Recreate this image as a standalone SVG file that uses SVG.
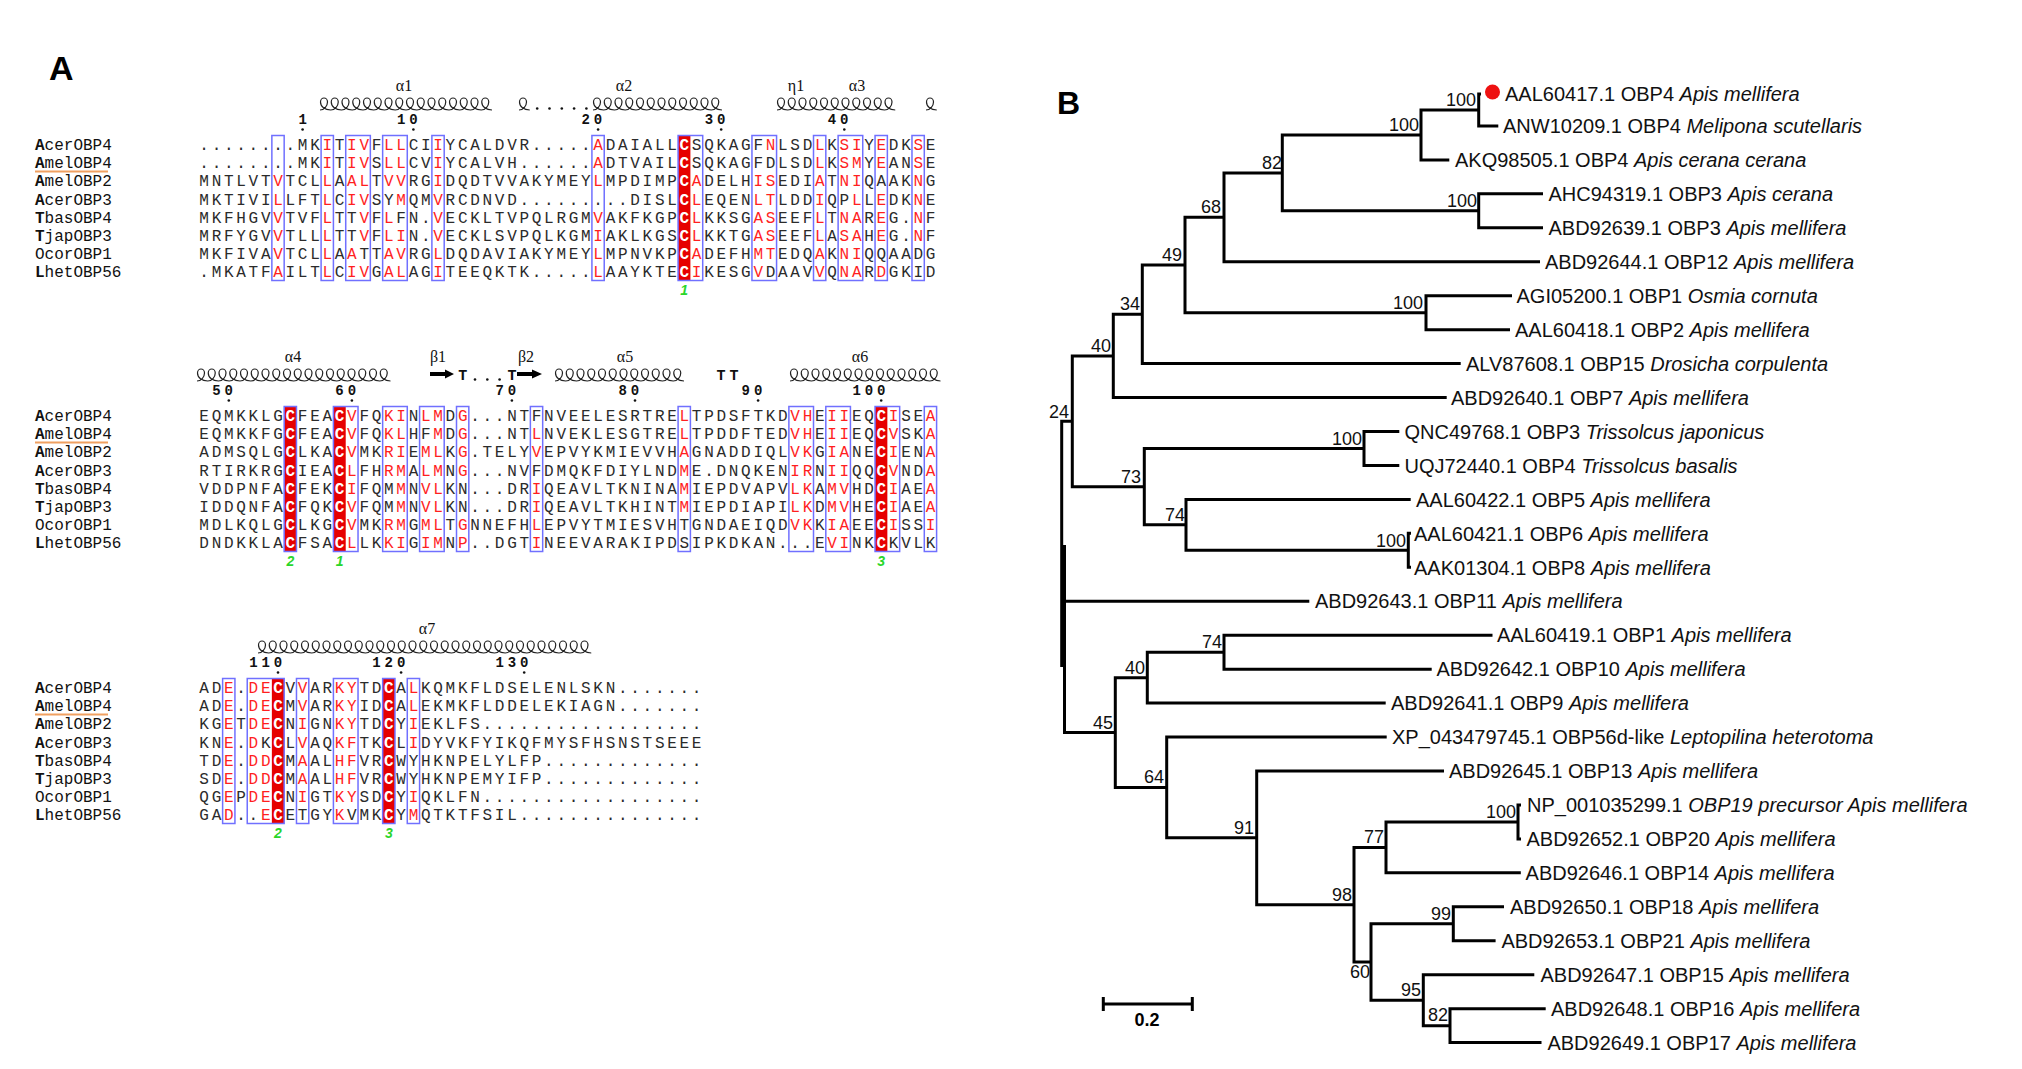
<svg xmlns="http://www.w3.org/2000/svg" width="2022" height="1069" viewBox="0 0 2022 1069">
<style>
.seq{font-family:"Liberation Mono",monospace;font-size:16px;letter-spacing:2.71px;fill:#2b2b2b}
.r{fill:#ff1f1f}
.w{fill:#fff;font-weight:bold}
.nm{font-family:"Liberation Mono",monospace;font-size:16px;fill:#111}
.bx{fill:none;stroke:#7070ff;stroke-width:1.5}
.cf{fill:#e60000}
.hx{fill:none;stroke:#222;stroke-width:1.2}
.num{font-family:"Liberation Mono",monospace;font-size:14px;font-weight:bold;letter-spacing:3.91px;fill:#111}
.ss{font-family:"Liberation Serif",serif;font-size:16px;fill:#111;text-anchor:middle}
.tt{font-family:"Liberation Mono",monospace;font-size:15px;font-weight:bold;fill:#111;text-anchor:middle}
.gn{font-family:"Liberation Sans",sans-serif;font-size:14px;font-weight:bold;font-style:italic;fill:#2ad62a;text-anchor:middle}
.br{fill:none;stroke:#000;stroke-width:3}
.lf{font-family:"Liberation Sans",Arial,sans-serif;font-size:20px;fill:#111}
.it{font-style:italic}
.bs{font-family:"Liberation Sans",Arial,sans-serif;font-size:18px;fill:#111;text-anchor:end}
.pl{font-family:"Liberation Sans",Arial,sans-serif;font-weight:bold;fill:#000}
.dt{fill:#111}
.ul{stroke:#f0a060;stroke-width:2}
</style>
<defs>
<g id="names">
<text class="nm" x="35" y="150"><tspan font-weight="bold">A</tspan>cerOBP4</text>
<text class="nm" x="35" y="168.2"><tspan font-weight="bold">A</tspan>melOBP4</text>
<text class="nm" x="35" y="186.4"><tspan font-weight="bold">A</tspan>melOBP2</text>
<text class="nm" x="35" y="204.6"><tspan font-weight="bold">A</tspan>cerOBP3</text>
<text class="nm" x="35" y="222.8"><tspan font-weight="bold">T</tspan>basOBP4</text>
<text class="nm" x="35" y="241"><tspan font-weight="bold">T</tspan>japOBP3</text>
<text class="nm" x="35" y="259.2">OcorOBP1</text>
<text class="nm" x="35" y="277.4"><tspan font-weight="bold">L</tspan>hetOBP56</text>
<line class="ul" x1="35" y1="171.5" x2="108" y2="171.5"/>
</g>
</defs>

<text class="pl" x="49" y="80" font-size="34">A</text>

<g id="block1">
<use href="#names"/>
<text class="ss" x="404" y="91">α1</text>
<text class="ss" x="624" y="91">α2</text>
<text class="ss" x="796" y="91">η1</text>
<text class="ss" x="857" y="91">α3</text>
<path class="hx" d="M320,110c4,0 7.5,-3.8 7.5,-8c0,-2.4 -1.7,-4 -3.5,-4c-1.8,0 -3.5,1.8 -3.5,4c0,4.6 4.5,8 10.25,8c4,0 7.5,-3.8 7.5,-8c0,-2.4 -1.7,-4 -3.5,-4c-1.8,0 -3.5,1.8 -3.5,4c0,4.6 4.5,8 10.25,8c4,0 7.5,-3.8 7.5,-8c0,-2.4 -1.7,-4 -3.5,-4c-1.8,0 -3.5,1.8 -3.5,4c0,4.6 4.5,8 10.25,8c4,0 7.5,-3.8 7.5,-8c0,-2.4 -1.7,-4 -3.5,-4c-1.8,0 -3.5,1.8 -3.5,4c0,4.6 4.5,8 10.25,8c4,0 7.5,-3.8 7.5,-8c0,-2.4 -1.7,-4 -3.5,-4c-1.8,0 -3.5,1.8 -3.5,4c0,4.6 4.5,8 10.25,8c4,0 7.5,-3.8 7.5,-8c0,-2.4 -1.7,-4 -3.5,-4c-1.8,0 -3.5,1.8 -3.5,4c0,4.6 4.5,8 10.25,8c4,0 7.5,-3.8 7.5,-8c0,-2.4 -1.7,-4 -3.5,-4c-1.8,0 -3.5,1.8 -3.5,4c0,4.6 4.5,8 10.25,8c4,0 7.5,-3.8 7.5,-8c0,-2.4 -1.7,-4 -3.5,-4c-1.8,0 -3.5,1.8 -3.5,4c0,4.6 4.5,8 10.25,8c4,0 7.5,-3.8 7.5,-8c0,-2.4 -1.7,-4 -3.5,-4c-1.8,0 -3.5,1.8 -3.5,4c0,4.6 4.5,8 10.25,8c4,0 7.5,-3.8 7.5,-8c0,-2.4 -1.7,-4 -3.5,-4c-1.8,0 -3.5,1.8 -3.5,4c0,4.6 4.5,8 10.25,8c4,0 7.5,-3.8 7.5,-8c0,-2.4 -1.7,-4 -3.5,-4c-1.8,0 -3.5,1.8 -3.5,4c0,4.6 4.5,8 10.25,8c4,0 7.5,-3.8 7.5,-8c0,-2.4 -1.7,-4 -3.5,-4c-1.8,0 -3.5,1.8 -3.5,4c0,4.6 4.5,8 10.25,8c4,0 7.5,-3.8 7.5,-8c0,-2.4 -1.7,-4 -3.5,-4c-1.8,0 -3.5,1.8 -3.5,4c0,4.6 4.5,8 10.25,8c4,0 7.5,-3.8 7.5,-8c0,-2.4 -1.7,-4 -3.5,-4c-1.8,0 -3.5,1.8 -3.5,4c0,4.6 4.5,8 10.25,8c4,0 7.5,-3.8 7.5,-8c0,-2.4 -1.7,-4 -3.5,-4c-1.8,0 -3.5,1.8 -3.5,4c0,4.6 4.5,8 10.25,8c4,0 7.5,-3.8 7.5,-8c0,-2.4 -1.7,-4 -3.5,-4c-1.8,0 -3.5,1.8 -3.5,4c0,4.6 4.5,8 10.25,8"/>
<path class="hx" d="M519,110c4,0 7.5,-3.8 7.5,-8c0,-2.4 -1.7,-4 -3.5,-4c-1.8,0 -3.5,1.8 -3.5,4c0,4.6 4.5,8 10.25,8"/>
<path class="hx" d="M926,110c4,0 7.5,-3.8 7.5,-8c0,-2.4 -1.7,-4 -3.5,-4c-1.8,0 -3.5,1.8 -3.5,4c0,4.6 4.5,8 10.25,8"/>
<g class="dt"><circle cx="537.2" cy="108.5" r="1.3"/><circle cx="549.5" cy="108.5" r="1.3"/><circle cx="561.8" cy="108.5" r="1.3"/><circle cx="574.1" cy="108.5" r="1.3"/><circle cx="586.4" cy="108.5" r="1.3"/></g>
<path class="hx" d="M593,110c4,0 7.5,-3.8 7.5,-8c0,-2.4 -1.7,-4 -3.5,-4c-1.8,0 -3.5,1.8 -3.5,4c0,4.6 4.5,8 10.25,8c4,0 7.5,-3.8 7.5,-8c0,-2.4 -1.7,-4 -3.5,-4c-1.8,0 -3.5,1.8 -3.5,4c0,4.6 4.5,8 10.25,8c4,0 7.5,-3.8 7.5,-8c0,-2.4 -1.7,-4 -3.5,-4c-1.8,0 -3.5,1.8 -3.5,4c0,4.6 4.5,8 10.25,8c4,0 7.5,-3.8 7.5,-8c0,-2.4 -1.7,-4 -3.5,-4c-1.8,0 -3.5,1.8 -3.5,4c0,4.6 4.5,8 10.25,8c4,0 7.5,-3.8 7.5,-8c0,-2.4 -1.7,-4 -3.5,-4c-1.8,0 -3.5,1.8 -3.5,4c0,4.6 4.5,8 10.25,8c4,0 7.5,-3.8 7.5,-8c0,-2.4 -1.7,-4 -3.5,-4c-1.8,0 -3.5,1.8 -3.5,4c0,4.6 4.5,8 10.25,8c4,0 7.5,-3.8 7.5,-8c0,-2.4 -1.7,-4 -3.5,-4c-1.8,0 -3.5,1.8 -3.5,4c0,4.6 4.5,8 10.25,8c4,0 7.5,-3.8 7.5,-8c0,-2.4 -1.7,-4 -3.5,-4c-1.8,0 -3.5,1.8 -3.5,4c0,4.6 4.5,8 10.25,8c4,0 7.5,-3.8 7.5,-8c0,-2.4 -1.7,-4 -3.5,-4c-1.8,0 -3.5,1.8 -3.5,4c0,4.6 4.5,8 10.25,8c4,0 7.5,-3.8 7.5,-8c0,-2.4 -1.7,-4 -3.5,-4c-1.8,0 -3.5,1.8 -3.5,4c0,4.6 4.5,8 10.25,8c4,0 7.5,-3.8 7.5,-8c0,-2.4 -1.7,-4 -3.5,-4c-1.8,0 -3.5,1.8 -3.5,4c0,4.6 4.5,8 10.25,8c4,0 7.5,-3.8 7.5,-8c0,-2.4 -1.7,-4 -3.5,-4c-1.8,0 -3.5,1.8 -3.5,4c0,4.6 4.5,8 10.25,8"/>
<path class="hx" d="M777,110c4,0 7.5,-3.8 7.5,-8c0,-2.4 -1.7,-4 -3.5,-4c-1.8,0 -3.5,1.8 -3.5,4c0,4.6 4.5,8 10.25,8c4,0 7.5,-3.8 7.5,-8c0,-2.4 -1.7,-4 -3.5,-4c-1.8,0 -3.5,1.8 -3.5,4c0,4.6 4.5,8 10.25,8c4,0 7.5,-3.8 7.5,-8c0,-2.4 -1.7,-4 -3.5,-4c-1.8,0 -3.5,1.8 -3.5,4c0,4.6 4.5,8 10.25,8c4,0 7.5,-3.8 7.5,-8c0,-2.4 -1.7,-4 -3.5,-4c-1.8,0 -3.5,1.8 -3.5,4c0,4.6 4.5,8 10.25,8c4,0 7.5,-3.8 7.5,-8c0,-2.4 -1.7,-4 -3.5,-4c-1.8,0 -3.5,1.8 -3.5,4c0,4.6 4.5,8 10.25,8c4,0 7.5,-3.8 7.5,-8c0,-2.4 -1.7,-4 -3.5,-4c-1.8,0 -3.5,1.8 -3.5,4c0,4.6 4.5,8 10.25,8c4,0 7.5,-3.8 7.5,-8c0,-2.4 -1.7,-4 -3.5,-4c-1.8,0 -3.5,1.8 -3.5,4c0,4.6 4.5,8 10.25,8c4,0 7.5,-3.8 7.5,-8c0,-2.4 -1.7,-4 -3.5,-4c-1.8,0 -3.5,1.8 -3.5,4c0,4.6 4.5,8 10.25,8c4,0 7.5,-3.8 7.5,-8c0,-2.4 -1.7,-4 -3.5,-4c-1.8,0 -3.5,1.8 -3.5,4c0,4.6 4.5,8 10.25,8c4,0 7.5,-3.8 7.5,-8c0,-2.4 -1.7,-4 -3.5,-4c-1.8,0 -3.5,1.8 -3.5,4c0,4.6 4.5,8 10.25,8c4,0 7.5,-3.8 7.5,-8c0,-2.4 -1.7,-4 -3.5,-4c-1.8,0 -3.5,1.8 -3.5,4c0,4.6 4.5,8 10.25,8"/>
<text class="num" x="298.43" y="124">1</text>
<text class="num" x="396.91" y="124">10</text>
<text class="num" x="581.56" y="124">20</text>
<text class="num" x="704.66" y="124">30</text>
<text class="num" x="827.76" y="124">40</text>
<g class="dt"><circle cx="302.6" cy="129.5" r="1.3"/><circle cx="413.4" cy="129.5" r="1.3"/><circle cx="598.1" cy="129.5" r="1.3"/><circle cx="721.2" cy="129.5" r="1.3"/><circle cx="844.3" cy="129.5" r="1.3"/></g>
<rect class="cf" x="678.09" y="135.5" width="12.31" height="145"/>
<g class="bx">
<rect x="271.86" y="135.5" width="12.31" height="145"/>
<rect x="321.1" y="135.5" width="12.31" height="145"/>
<rect x="345.72" y="135.5" width="24.62" height="145"/>
<rect x="382.65" y="135.5" width="24.62" height="145"/>
<rect x="431.89" y="135.5" width="12.31" height="145"/>
<rect x="591.92" y="135.5" width="12.31" height="145"/>
<rect x="678.09" y="135.5" width="24.62" height="145"/>
<rect x="751.95" y="135.5" width="24.62" height="145"/>
<rect x="813.5" y="135.5" width="12.31" height="145"/>
<rect x="838.12" y="135.5" width="24.62" height="145"/>
<rect x="875.05" y="135.5" width="12.31" height="145"/>
<rect x="911.98" y="135.5" width="12.31" height="145"/>
</g>
<text class="seq" x="199.36" y="150">........MK<tspan class="r">I</tspan>T<tspan class="r">IV</tspan>F<tspan class="r">LL</tspan>CI<tspan class="r">I</tspan>YCALDVR.....<tspan class="r">A</tspan>DAIALL<tspan class="w">C</tspan>SQKAGF<tspan class="r">N</tspan>LSD<tspan class="r">L</tspan>K<tspan class="r">SI</tspan>Y<tspan class="r">E</tspan>DK<tspan class="r">S</tspan>E</text>
<text class="seq" x="199.36" y="168.2">........MK<tspan class="r">I</tspan>T<tspan class="r">IV</tspan>S<tspan class="r">LL</tspan>CV<tspan class="r">I</tspan>YCALVH......<tspan class="r">A</tspan>DTVAIL<tspan class="w">C</tspan>SQKAGFDLSD<tspan class="r">L</tspan>K<tspan class="r">SM</tspan>Y<tspan class="r">E</tspan>AN<tspan class="r">S</tspan>E</text>
<text class="seq" x="199.36" y="186.4">MNTLVT<tspan class="r">V</tspan>TCL<tspan class="r">L</tspan>A<tspan class="r">AL</tspan>T<tspan class="r">VV</tspan>RG<tspan class="r">I</tspan>DQDTVVAKYMEY<tspan class="r">L</tspan>MPDIMP<tspan class="w">C</tspan><tspan class="r">A</tspan>DELH<tspan class="r">IS</tspan>EDI<tspan class="r">A</tspan>T<tspan class="r">NI</tspan>QAAK<tspan class="r">N</tspan>G</text>
<text class="seq" x="199.36" y="204.6">MKTIVI<tspan class="r">L</tspan>LFT<tspan class="r">L</tspan>C<tspan class="r">IV</tspan>SY<tspan class="r">M</tspan>QM<tspan class="r">V</tspan>RCDNVD.........DISL<tspan class="w">C</tspan><tspan class="r">L</tspan>EQEN<tspan class="r">LT</tspan>LDD<tspan class="r">I</tspan>QP<tspan class="r">L</tspan>L<tspan class="r">E</tspan>DK<tspan class="r">N</tspan>E</text>
<text class="seq" x="199.36" y="222.8">MKFHGV<tspan class="r">V</tspan>TVF<tspan class="r">L</tspan>TT<tspan class="r">V</tspan>F<tspan class="r">L</tspan>FN.<tspan class="r">V</tspan>ECKLTVPQLRGM<tspan class="r">V</tspan>AKFKGP<tspan class="w">C</tspan><tspan class="r">L</tspan>KKSG<tspan class="r">AS</tspan>EEF<tspan class="r">L</tspan>T<tspan class="r">NA</tspan>R<tspan class="r">E</tspan>G.<tspan class="r">N</tspan>F</text>
<text class="seq" x="199.36" y="241">MRFYGV<tspan class="r">V</tspan>TLL<tspan class="r">L</tspan>TT<tspan class="r">V</tspan>F<tspan class="r">LI</tspan>N.<tspan class="r">V</tspan>ECKLSVPQLKGM<tspan class="r">I</tspan>AKLKGS<tspan class="w">C</tspan><tspan class="r">L</tspan>KKTG<tspan class="r">AS</tspan>EEF<tspan class="r">L</tspan>A<tspan class="r">SA</tspan>H<tspan class="r">E</tspan>G.<tspan class="r">N</tspan>F</text>
<text class="seq" x="199.36" y="259.2">MKFIVA<tspan class="r">V</tspan>TCL<tspan class="r">L</tspan>A<tspan class="r">A</tspan>TT<tspan class="r">AV</tspan>RG<tspan class="r">L</tspan>DQDAVIAKYMEY<tspan class="r">L</tspan>MPNVKP<tspan class="w">C</tspan><tspan class="r">A</tspan>DEFH<tspan class="r">MT</tspan>EDQ<tspan class="r">A</tspan>K<tspan class="r">NI</tspan>QQAADG</text>
<text class="seq" x="199.36" y="277.4">.MKATF<tspan class="r">A</tspan>ILT<tspan class="r">L</tspan>C<tspan class="r">IV</tspan>G<tspan class="r">AL</tspan>AG<tspan class="r">I</tspan>TEEQKTK.....<tspan class="r">L</tspan>AAYKTE<tspan class="w">C</tspan><tspan class="r">I</tspan>KESG<tspan class="r">V</tspan>DAAV<tspan class="r">V</tspan>Q<tspan class="r">NA</tspan>R<tspan class="r">D</tspan>GKID</text>
<text class="gn" x="684.2" y="295">1</text>
</g>

<g id="block2" transform="translate(0,271)">
<use href="#names"/>
<text class="ss" x="293" y="91">α4</text>
<text class="ss" x="438" y="91">β1</text>
<text class="ss" x="526" y="91">β2</text>
<text class="ss" x="625" y="91">α5</text>
<text class="ss" x="860" y="91">α6</text>
<path class="hx" d="M197,110c4,0 7.5,-3.8 7.5,-8c0,-2.4 -1.7,-4 -3.5,-4c-1.8,0 -3.5,1.8 -3.5,4c0,4.6 4.5,8 10.25,8c4,0 7.5,-3.8 7.5,-8c0,-2.4 -1.7,-4 -3.5,-4c-1.8,0 -3.5,1.8 -3.5,4c0,4.6 4.5,8 10.25,8c4,0 7.5,-3.8 7.5,-8c0,-2.4 -1.7,-4 -3.5,-4c-1.8,0 -3.5,1.8 -3.5,4c0,4.6 4.5,8 10.25,8c4,0 7.5,-3.8 7.5,-8c0,-2.4 -1.7,-4 -3.5,-4c-1.8,0 -3.5,1.8 -3.5,4c0,4.6 4.5,8 10.25,8c4,0 7.5,-3.8 7.5,-8c0,-2.4 -1.7,-4 -3.5,-4c-1.8,0 -3.5,1.8 -3.5,4c0,4.6 4.5,8 10.25,8c4,0 7.5,-3.8 7.5,-8c0,-2.4 -1.7,-4 -3.5,-4c-1.8,0 -3.5,1.8 -3.5,4c0,4.6 4.5,8 10.25,8c4,0 7.5,-3.8 7.5,-8c0,-2.4 -1.7,-4 -3.5,-4c-1.8,0 -3.5,1.8 -3.5,4c0,4.6 4.5,8 10.25,8c4,0 7.5,-3.8 7.5,-8c0,-2.4 -1.7,-4 -3.5,-4c-1.8,0 -3.5,1.8 -3.5,4c0,4.6 4.5,8 10.25,8c4,0 7.5,-3.8 7.5,-8c0,-2.4 -1.7,-4 -3.5,-4c-1.8,0 -3.5,1.8 -3.5,4c0,4.6 4.5,8 10.25,8c4,0 7.5,-3.8 7.5,-8c0,-2.4 -1.7,-4 -3.5,-4c-1.8,0 -3.5,1.8 -3.5,4c0,4.6 4.5,8 10.25,8c4,0 7.5,-3.8 7.5,-8c0,-2.4 -1.7,-4 -3.5,-4c-1.8,0 -3.5,1.8 -3.5,4c0,4.6 4.5,8 10.25,8c4,0 7.5,-3.8 7.5,-8c0,-2.4 -1.7,-4 -3.5,-4c-1.8,0 -3.5,1.8 -3.5,4c0,4.6 4.5,8 10.25,8c4,0 7.5,-3.8 7.5,-8c0,-2.4 -1.7,-4 -3.5,-4c-1.8,0 -3.5,1.8 -3.5,4c0,4.6 4.5,8 10.25,8c4,0 7.5,-3.8 7.5,-8c0,-2.4 -1.7,-4 -3.5,-4c-1.8,0 -3.5,1.8 -3.5,4c0,4.6 4.5,8 10.25,8c4,0 7.5,-3.8 7.5,-8c0,-2.4 -1.7,-4 -3.5,-4c-1.8,0 -3.5,1.8 -3.5,4c0,4.6 4.5,8 10.25,8c4,0 7.5,-3.8 7.5,-8c0,-2.4 -1.7,-4 -3.5,-4c-1.8,0 -3.5,1.8 -3.5,4c0,4.6 4.5,8 10.25,8c4,0 7.5,-3.8 7.5,-8c0,-2.4 -1.7,-4 -3.5,-4c-1.8,0 -3.5,1.8 -3.5,4c0,4.6 4.5,8 10.25,8c4,0 7.5,-3.8 7.5,-8c0,-2.4 -1.7,-4 -3.5,-4c-1.8,0 -3.5,1.8 -3.5,4c0,4.6 4.5,8 10.25,8"/>
<path d="M430,101H445V98.5L454,103L445,107.5V105H430Z" fill="#000"/>
<text class="tt" x="462.7" y="109">T</text>
<g class="dt"><circle cx="475" cy="108.5" r="1.3"/><circle cx="487.3" cy="108.5" r="1.3"/><circle cx="499.6" cy="108.5" r="1.3"/></g>
<text class="tt" x="511.9" y="109">T</text>
<path d="M517,101H532V98.5L542,103L532,107.5V105H517Z" fill="#000"/>
<path class="hx" d="M555,110c4,0 7.5,-3.8 7.5,-8c0,-2.4 -1.7,-4 -3.5,-4c-1.8,0 -3.5,1.8 -3.5,4c0,4.6 4.5,8 10.25,8c4,0 7.5,-3.8 7.5,-8c0,-2.4 -1.7,-4 -3.5,-4c-1.8,0 -3.5,1.8 -3.5,4c0,4.6 4.5,8 10.25,8c4,0 7.5,-3.8 7.5,-8c0,-2.4 -1.7,-4 -3.5,-4c-1.8,0 -3.5,1.8 -3.5,4c0,4.6 4.5,8 10.25,8c4,0 7.5,-3.8 7.5,-8c0,-2.4 -1.7,-4 -3.5,-4c-1.8,0 -3.5,1.8 -3.5,4c0,4.6 4.5,8 10.25,8c4,0 7.5,-3.8 7.5,-8c0,-2.4 -1.7,-4 -3.5,-4c-1.8,0 -3.5,1.8 -3.5,4c0,4.6 4.5,8 10.25,8c4,0 7.5,-3.8 7.5,-8c0,-2.4 -1.7,-4 -3.5,-4c-1.8,0 -3.5,1.8 -3.5,4c0,4.6 4.5,8 10.25,8c4,0 7.5,-3.8 7.5,-8c0,-2.4 -1.7,-4 -3.5,-4c-1.8,0 -3.5,1.8 -3.5,4c0,4.6 4.5,8 10.25,8c4,0 7.5,-3.8 7.5,-8c0,-2.4 -1.7,-4 -3.5,-4c-1.8,0 -3.5,1.8 -3.5,4c0,4.6 4.5,8 10.25,8c4,0 7.5,-3.8 7.5,-8c0,-2.4 -1.7,-4 -3.5,-4c-1.8,0 -3.5,1.8 -3.5,4c0,4.6 4.5,8 10.25,8c4,0 7.5,-3.8 7.5,-8c0,-2.4 -1.7,-4 -3.5,-4c-1.8,0 -3.5,1.8 -3.5,4c0,4.6 4.5,8 10.25,8c4,0 7.5,-3.8 7.5,-8c0,-2.4 -1.7,-4 -3.5,-4c-1.8,0 -3.5,1.8 -3.5,4c0,4.6 4.5,8 10.25,8c4,0 7.5,-3.8 7.5,-8c0,-2.4 -1.7,-4 -3.5,-4c-1.8,0 -3.5,1.8 -3.5,4c0,4.6 4.5,8 10.25,8"/>
<text class="tt" x="721" y="109">T</text>
<text class="tt" x="734" y="109">T</text>
<path class="hx" d="M790,110c4,0 7.5,-3.8 7.5,-8c0,-2.4 -1.7,-4 -3.5,-4c-1.8,0 -3.5,1.8 -3.5,4c0,4.6 4.5,8 10.25,8c4,0 7.5,-3.8 7.5,-8c0,-2.4 -1.7,-4 -3.5,-4c-1.8,0 -3.5,1.8 -3.5,4c0,4.6 4.5,8 10.25,8c4,0 7.5,-3.8 7.5,-8c0,-2.4 -1.7,-4 -3.5,-4c-1.8,0 -3.5,1.8 -3.5,4c0,4.6 4.5,8 10.25,8c4,0 7.5,-3.8 7.5,-8c0,-2.4 -1.7,-4 -3.5,-4c-1.8,0 -3.5,1.8 -3.5,4c0,4.6 4.5,8 10.25,8c4,0 7.5,-3.8 7.5,-8c0,-2.4 -1.7,-4 -3.5,-4c-1.8,0 -3.5,1.8 -3.5,4c0,4.6 4.5,8 10.25,8c4,0 7.5,-3.8 7.5,-8c0,-2.4 -1.7,-4 -3.5,-4c-1.8,0 -3.5,1.8 -3.5,4c0,4.6 4.5,8 10.25,8c4,0 7.5,-3.8 7.5,-8c0,-2.4 -1.7,-4 -3.5,-4c-1.8,0 -3.5,1.8 -3.5,4c0,4.6 4.5,8 10.25,8c4,0 7.5,-3.8 7.5,-8c0,-2.4 -1.7,-4 -3.5,-4c-1.8,0 -3.5,1.8 -3.5,4c0,4.6 4.5,8 10.25,8c4,0 7.5,-3.8 7.5,-8c0,-2.4 -1.7,-4 -3.5,-4c-1.8,0 -3.5,1.8 -3.5,4c0,4.6 4.5,8 10.25,8c4,0 7.5,-3.8 7.5,-8c0,-2.4 -1.7,-4 -3.5,-4c-1.8,0 -3.5,1.8 -3.5,4c0,4.6 4.5,8 10.25,8c4,0 7.5,-3.8 7.5,-8c0,-2.4 -1.7,-4 -3.5,-4c-1.8,0 -3.5,1.8 -3.5,4c0,4.6 4.5,8 10.25,8c4,0 7.5,-3.8 7.5,-8c0,-2.4 -1.7,-4 -3.5,-4c-1.8,0 -3.5,1.8 -3.5,4c0,4.6 4.5,8 10.25,8c4,0 7.5,-3.8 7.5,-8c0,-2.4 -1.7,-4 -3.5,-4c-1.8,0 -3.5,1.8 -3.5,4c0,4.6 4.5,8 10.25,8c4,0 7.5,-3.8 7.5,-8c0,-2.4 -1.7,-4 -3.5,-4c-1.8,0 -3.5,1.8 -3.5,4c0,4.6 4.5,8 10.25,8"/>
<text class="num" x="212.26" y="124">50</text>
<text class="num" x="335.36" y="124">60</text>
<text class="num" x="495.39" y="124">70</text>
<text class="num" x="618.49" y="124">80</text>
<text class="num" x="741.59" y="124">90</text>
<text class="num" x="852.38" y="124">100</text>
<g class="dt"><circle cx="228.8" cy="129.5" r="1.3"/><circle cx="351.9" cy="129.5" r="1.3"/><circle cx="511.9" cy="129.5" r="1.3"/><circle cx="635" cy="129.5" r="1.3"/><circle cx="758.1" cy="129.5" r="1.3"/><circle cx="881.2" cy="129.5" r="1.3"/></g>
<rect class="cf" x="284.17" y="135.5" width="12.31" height="145"/>
<rect class="cf" x="333.41" y="135.5" width="12.31" height="145"/>
<rect class="cf" x="875.05" y="135.5" width="12.31" height="145"/>
<g class="bx">
<rect x="284.17" y="135.5" width="12.31" height="145"/>
<rect x="333.41" y="135.5" width="24.62" height="145"/>
<rect x="382.65" y="135.5" width="24.62" height="145"/>
<rect x="419.58" y="135.5" width="24.62" height="145"/>
<rect x="456.51" y="135.5" width="12.31" height="145"/>
<rect x="530.37" y="135.5" width="12.31" height="145"/>
<rect x="678.09" y="135.5" width="12.31" height="145"/>
<rect x="788.88" y="135.5" width="24.62" height="145"/>
<rect x="825.81" y="135.5" width="24.62" height="145"/>
<rect x="875.05" y="135.5" width="24.62" height="145"/>
<rect x="924.29" y="135.5" width="12.31" height="145"/>
</g>
<text class="seq" x="199.36" y="150">EQMKKLG<tspan class="w">C</tspan>FEA<tspan class="w">C</tspan><tspan class="r">V</tspan>FQ<tspan class="r">KI</tspan>N<tspan class="r">LM</tspan>D<tspan class="r">G</tspan>...NTFNVEELESRTRE<tspan class="r">L</tspan>TPDSFTKD<tspan class="r">VH</tspan>E<tspan class="r">II</tspan>EQ<tspan class="w">C</tspan><tspan class="r">I</tspan>SE<tspan class="r">A</tspan></text>
<text class="seq" x="199.36" y="168.2">EQMKKFG<tspan class="w">C</tspan>FEA<tspan class="w">C</tspan><tspan class="r">V</tspan>FQ<tspan class="r">KL</tspan>HF<tspan class="r">M</tspan>D<tspan class="r">G</tspan>...NT<tspan class="r">L</tspan>NVEKLESGTRE<tspan class="r">L</tspan>TPDDFTED<tspan class="r">VH</tspan>E<tspan class="r">II</tspan>EQ<tspan class="w">C</tspan><tspan class="r">V</tspan>SK<tspan class="r">A</tspan></text>
<text class="seq" x="199.36" y="186.4">ADMSQLG<tspan class="w">C</tspan>LKA<tspan class="w">C</tspan><tspan class="r">V</tspan>MK<tspan class="r">RI</tspan>E<tspan class="r">ML</tspan>K<tspan class="r">G</tspan>.TELY<tspan class="r">V</tspan>EPVYKMIEVVH<tspan class="r">A</tspan>GNADDIQL<tspan class="r">VK</tspan>G<tspan class="r">IA</tspan>NE<tspan class="w">C</tspan><tspan class="r">I</tspan>EN<tspan class="r">A</tspan></text>
<text class="seq" x="199.36" y="204.6">RTIRKRG<tspan class="w">C</tspan>IEA<tspan class="w">C</tspan><tspan class="r">L</tspan>FH<tspan class="r">RM</tspan>A<tspan class="r">LM</tspan>N<tspan class="r">G</tspan>...NVFDMQKFDIYLND<tspan class="r">M</tspan>E.DNQKEN<tspan class="r">IR</tspan>N<tspan class="r">II</tspan>QQ<tspan class="w">C</tspan><tspan class="r">V</tspan>ND<tspan class="r">A</tspan></text>
<text class="seq" x="199.36" y="222.8">VDDPNFA<tspan class="w">C</tspan>FEK<tspan class="w">C</tspan><tspan class="r">I</tspan>FQM<tspan class="r">M</tspan>N<tspan class="r">VL</tspan>KN...DR<tspan class="r">I</tspan>QEAVLTKNINA<tspan class="r">M</tspan>IEPDVAPV<tspan class="r">LK</tspan>A<tspan class="r">MV</tspan>HD<tspan class="w">C</tspan><tspan class="r">I</tspan>AE<tspan class="r">A</tspan></text>
<text class="seq" x="199.36" y="241">IDDQNFA<tspan class="w">C</tspan>FQK<tspan class="w">C</tspan><tspan class="r">V</tspan>FQM<tspan class="r">M</tspan>N<tspan class="r">VL</tspan>KN...DR<tspan class="r">I</tspan>QEAVLTKHINT<tspan class="r">M</tspan>IEPDIAPI<tspan class="r">LK</tspan>D<tspan class="r">MV</tspan>HE<tspan class="w">C</tspan><tspan class="r">I</tspan>AE<tspan class="r">A</tspan></text>
<text class="seq" x="199.36" y="259.2">MDLKQLG<tspan class="w">C</tspan>LKG<tspan class="w">C</tspan><tspan class="r">V</tspan>MK<tspan class="r">RM</tspan>G<tspan class="r">ML</tspan>T<tspan class="r">G</tspan>NNEFH<tspan class="r">L</tspan>EPVYTMIESVHTGNDAEIQD<tspan class="r">VK</tspan>K<tspan class="r">IA</tspan>EE<tspan class="w">C</tspan><tspan class="r">I</tspan>SS<tspan class="r">I</tspan></text>
<text class="seq" x="199.36" y="277.4">DNDKKLA<tspan class="w">C</tspan>FSA<tspan class="w">C</tspan><tspan class="r">L</tspan>LK<tspan class="r">KI</tspan>G<tspan class="r">IM</tspan>N<tspan class="r">P</tspan>..DGT<tspan class="r">I</tspan>NEEVARAKIPDSIPKDKAN...E<tspan class="r">VI</tspan>NK<tspan class="w">C</tspan>KVLK</text>
<text class="gn" x="290.3" y="295">2</text>
<text class="gn" x="339.6" y="295">1</text>
<text class="gn" x="881.2" y="295">3</text>
</g>

<g id="block3" transform="translate(0,543)">
<use href="#names"/>
<text class="ss" x="427" y="91">α7</text>
<path class="hx" d="M258,110c4,0 7.5,-3.8 7.5,-8c0,-2.4 -1.7,-4 -3.5,-4c-1.8,0 -3.5,1.8 -3.5,4c0,4.6 4.5,8 10.25,8c4,0 7.5,-3.8 7.5,-8c0,-2.4 -1.7,-4 -3.5,-4c-1.8,0 -3.5,1.8 -3.5,4c0,4.6 4.5,8 10.25,8c4,0 7.5,-3.8 7.5,-8c0,-2.4 -1.7,-4 -3.5,-4c-1.8,0 -3.5,1.8 -3.5,4c0,4.6 4.5,8 10.25,8c4,0 7.5,-3.8 7.5,-8c0,-2.4 -1.7,-4 -3.5,-4c-1.8,0 -3.5,1.8 -3.5,4c0,4.6 4.5,8 10.25,8c4,0 7.5,-3.8 7.5,-8c0,-2.4 -1.7,-4 -3.5,-4c-1.8,0 -3.5,1.8 -3.5,4c0,4.6 4.5,8 10.25,8c4,0 7.5,-3.8 7.5,-8c0,-2.4 -1.7,-4 -3.5,-4c-1.8,0 -3.5,1.8 -3.5,4c0,4.6 4.5,8 10.25,8c4,0 7.5,-3.8 7.5,-8c0,-2.4 -1.7,-4 -3.5,-4c-1.8,0 -3.5,1.8 -3.5,4c0,4.6 4.5,8 10.25,8c4,0 7.5,-3.8 7.5,-8c0,-2.4 -1.7,-4 -3.5,-4c-1.8,0 -3.5,1.8 -3.5,4c0,4.6 4.5,8 10.25,8c4,0 7.5,-3.8 7.5,-8c0,-2.4 -1.7,-4 -3.5,-4c-1.8,0 -3.5,1.8 -3.5,4c0,4.6 4.5,8 10.25,8c4,0 7.5,-3.8 7.5,-8c0,-2.4 -1.7,-4 -3.5,-4c-1.8,0 -3.5,1.8 -3.5,4c0,4.6 4.5,8 10.25,8c4,0 7.5,-3.8 7.5,-8c0,-2.4 -1.7,-4 -3.5,-4c-1.8,0 -3.5,1.8 -3.5,4c0,4.6 4.5,8 10.25,8c4,0 7.5,-3.8 7.5,-8c0,-2.4 -1.7,-4 -3.5,-4c-1.8,0 -3.5,1.8 -3.5,4c0,4.6 4.5,8 10.25,8c4,0 7.5,-3.8 7.5,-8c0,-2.4 -1.7,-4 -3.5,-4c-1.8,0 -3.5,1.8 -3.5,4c0,4.6 4.5,8 10.25,8c4,0 7.5,-3.8 7.5,-8c0,-2.4 -1.7,-4 -3.5,-4c-1.8,0 -3.5,1.8 -3.5,4c0,4.6 4.5,8 10.25,8c4,0 7.5,-3.8 7.5,-8c0,-2.4 -1.7,-4 -3.5,-4c-1.8,0 -3.5,1.8 -3.5,4c0,4.6 4.5,8 10.25,8c4,0 7.5,-3.8 7.5,-8c0,-2.4 -1.7,-4 -3.5,-4c-1.8,0 -3.5,1.8 -3.5,4c0,4.6 4.5,8 10.25,8c4,0 7.5,-3.8 7.5,-8c0,-2.4 -1.7,-4 -3.5,-4c-1.8,0 -3.5,1.8 -3.5,4c0,4.6 4.5,8 10.25,8c4,0 7.5,-3.8 7.5,-8c0,-2.4 -1.7,-4 -3.5,-4c-1.8,0 -3.5,1.8 -3.5,4c0,4.6 4.5,8 10.25,8c4,0 7.5,-3.8 7.5,-8c0,-2.4 -1.7,-4 -3.5,-4c-1.8,0 -3.5,1.8 -3.5,4c0,4.6 4.5,8 10.25,8c4,0 7.5,-3.8 7.5,-8c0,-2.4 -1.7,-4 -3.5,-4c-1.8,0 -3.5,1.8 -3.5,4c0,4.6 4.5,8 10.25,8c4,0 7.5,-3.8 7.5,-8c0,-2.4 -1.7,-4 -3.5,-4c-1.8,0 -3.5,1.8 -3.5,4c0,4.6 4.5,8 10.25,8c4,0 7.5,-3.8 7.5,-8c0,-2.4 -1.7,-4 -3.5,-4c-1.8,0 -3.5,1.8 -3.5,4c0,4.6 4.5,8 10.25,8c4,0 7.5,-3.8 7.5,-8c0,-2.4 -1.7,-4 -3.5,-4c-1.8,0 -3.5,1.8 -3.5,4c0,4.6 4.5,8 10.25,8c4,0 7.5,-3.8 7.5,-8c0,-2.4 -1.7,-4 -3.5,-4c-1.8,0 -3.5,1.8 -3.5,4c0,4.6 4.5,8 10.25,8c4,0 7.5,-3.8 7.5,-8c0,-2.4 -1.7,-4 -3.5,-4c-1.8,0 -3.5,1.8 -3.5,4c0,4.6 4.5,8 10.25,8c4,0 7.5,-3.8 7.5,-8c0,-2.4 -1.7,-4 -3.5,-4c-1.8,0 -3.5,1.8 -3.5,4c0,4.6 4.5,8 10.25,8c4,0 7.5,-3.8 7.5,-8c0,-2.4 -1.7,-4 -3.5,-4c-1.8,0 -3.5,1.8 -3.5,4c0,4.6 4.5,8 10.25,8c4,0 7.5,-3.8 7.5,-8c0,-2.4 -1.7,-4 -3.5,-4c-1.8,0 -3.5,1.8 -3.5,4c0,4.6 4.5,8 10.25,8c4,0 7.5,-3.8 7.5,-8c0,-2.4 -1.7,-4 -3.5,-4c-1.8,0 -3.5,1.8 -3.5,4c0,4.6 4.5,8 10.25,8c4,0 7.5,-3.8 7.5,-8c0,-2.4 -1.7,-4 -3.5,-4c-1.8,0 -3.5,1.8 -3.5,4c0,4.6 4.5,8 10.25,8c4,0 7.5,-3.8 7.5,-8c0,-2.4 -1.7,-4 -3.5,-4c-1.8,0 -3.5,1.8 -3.5,4c0,4.6 4.5,8 10.25,8"/>
<text class="num" x="249.19" y="124">110</text>
<text class="num" x="372.29" y="124">120</text>
<text class="num" x="495.39" y="124">130</text>
<g class="dt"><circle cx="278" cy="129.5" r="1.3"/><circle cx="401.1" cy="129.5" r="1.3"/><circle cx="524.2" cy="129.5" r="1.3"/></g>
<rect class="cf" x="271.86" y="135.5" width="12.31" height="145"/>
<rect class="cf" x="382.65" y="135.5" width="12.31" height="145"/>
<g class="bx">
<rect x="222.62" y="135.5" width="12.31" height="145"/>
<rect x="247.24" y="135.5" width="36.93" height="145"/>
<rect x="296.48" y="135.5" width="12.31" height="145"/>
<rect x="333.41" y="135.5" width="24.62" height="145"/>
<rect x="382.65" y="135.5" width="12.31" height="145"/>
<rect x="407.27" y="135.5" width="12.31" height="145"/>
</g>
<text class="seq" x="199.36" y="150">AD<tspan class="r">E</tspan>.<tspan class="r">DE</tspan><tspan class="w">C</tspan>V<tspan class="r">V</tspan>AR<tspan class="r">KY</tspan>TD<tspan class="w">C</tspan>A<tspan class="r">L</tspan>KQMKFLDSELENLSKN.......</text>
<text class="seq" x="199.36" y="168.2">AD<tspan class="r">E</tspan>.<tspan class="r">DE</tspan><tspan class="w">C</tspan>M<tspan class="r">V</tspan>AR<tspan class="r">KY</tspan>ID<tspan class="w">C</tspan>A<tspan class="r">L</tspan>EKMKFLDDELEKIAGN.......</text>
<text class="seq" x="199.36" y="186.4">KG<tspan class="r">E</tspan>T<tspan class="r">DE</tspan><tspan class="w">C</tspan>N<tspan class="r">I</tspan>GN<tspan class="r">KY</tspan>TD<tspan class="w">C</tspan>Y<tspan class="r">I</tspan>EKLFS..................</text>
<text class="seq" x="199.36" y="204.6">KN<tspan class="r">E</tspan>.<tspan class="r">D</tspan>K<tspan class="w">C</tspan>L<tspan class="r">V</tspan>AQ<tspan class="r">KF</tspan>TK<tspan class="w">C</tspan>L<tspan class="r">I</tspan>DYVKFYIKQFMYSFHSNSTSEEE</text>
<text class="seq" x="199.36" y="222.8">TD<tspan class="r">E</tspan>.<tspan class="r">DD</tspan><tspan class="w">C</tspan>M<tspan class="r">A</tspan>AL<tspan class="r">HF</tspan>VR<tspan class="w">C</tspan>WYHKNPELYLFP.............</text>
<text class="seq" x="199.36" y="241">SD<tspan class="r">E</tspan>.<tspan class="r">DD</tspan><tspan class="w">C</tspan>M<tspan class="r">A</tspan>AL<tspan class="r">HF</tspan>VR<tspan class="w">C</tspan>WYHKNPEMYIFP.............</text>
<text class="seq" x="199.36" y="259.2">QG<tspan class="r">E</tspan>P<tspan class="r">DE</tspan><tspan class="w">C</tspan>N<tspan class="r">I</tspan>GT<tspan class="r">KY</tspan>SD<tspan class="w">C</tspan>Y<tspan class="r">I</tspan>QKLFN..................</text>
<text class="seq" x="199.36" y="277.4">GA<tspan class="r">D</tspan>..<tspan class="r">E</tspan><tspan class="w">C</tspan>ETGY<tspan class="r">K</tspan>VMK<tspan class="w">C</tspan>Y<tspan class="r">M</tspan>QTKTFSIL...............</text>
<text class="gn" x="278" y="295">2</text>
<text class="gn" x="388.8" y="295">3</text>
</g>

<text class="pl" x="1057" y="114" font-size="32">B</text>

<g id="connectors" class="br">
<path d="M1481,94H1478.7V125.95H1498.3"/>
<path d="M1478.7,109.98H1421V159.9H1449.3"/>
<path d="M1543,193.85H1478.7V227.8H1543"/>
<path d="M1421,134.94H1282.3V210.83H1478.7"/>
<path d="M1282.3,172.88H1224V261.75H1540"/>
<path d="M1512,295.7H1426V329.65H1510"/>
<path d="M1224,217.31H1185V312.68H1426"/>
<path d="M1185,265H1142.3V363.6H1460.7"/>
<path d="M1142.3,314.3H1113.3V397.55H1446.7"/>
<path d="M1399.3,431.5H1364V465.45H1399.3"/>
<path d="M1411,533.35H1408.3V567.3H1411"/>
<path d="M1410.7,499.4H1186V550.33H1408.3"/>
<path d="M1364,448.48H1144.3V524.86H1186"/>
<path d="M1113.3,355.92H1072.3V486.67H1144.3"/>
<path d="M1072.3,421.3H1061.7V667"/>
<path d="M1309.3,601.25H1064.5"/>
<path d="M1064.5,545V732.55H1115.3"/>
<path d="M1492.5,635.2H1224V669.15H1431.7"/>
<path d="M1224,652.18H1147.3V703.1H1385.7"/>
<path d="M1521,804.95H1518V838.9H1521"/>
<path d="M1518,821.93H1386V872.85H1520.8"/>
<path d="M1504,906.8H1453.3V940.75H1495.6"/>
<path d="M1545.7,1008.65H1450V1042.6H1541.5"/>
<path d="M1534.3,974.7H1423.3V1025.63H1450"/>
<path d="M1453.3,923.78H1371V1000.17H1423.3"/>
<path d="M1386,847.39H1354V961.98H1371"/>
<path d="M1444,771H1256.7V904.69H1354"/>
<path d="M1386.7,737.05H1166.7V837.85H1256.7"/>
<path d="M1147.3,677.64H1115.3V787.45H1166.7"/>
</g>

<g id="bootstrap" class="bs">
<text x="1476" y="106">100</text>
<text x="1419" y="130.5">100</text>
<text x="1282" y="168.5">82</text>
<text x="1477" y="206.5">100</text>
<text x="1221" y="213">68</text>
<text x="1182" y="261">49</text>
<text x="1423" y="308.5">100</text>
<text x="1140" y="310">34</text>
<text x="1111" y="352">40</text>
<text x="1069" y="418">24</text>
<text x="1362" y="444.5">100</text>
<text x="1141" y="483">73</text>
<text x="1185" y="521">74</text>
<text x="1406" y="546.5">100</text>
<text x="1222" y="648">74</text>
<text x="1145" y="673.5">40</text>
<text x="1113" y="728.5">45</text>
<text x="1164" y="783">64</text>
<text x="1254" y="833.5">91</text>
<text x="1384" y="843">77</text>
<text x="1352" y="900.5">98</text>
<text x="1516" y="818">100</text>
<text x="1451" y="919.5">99</text>
<text x="1370" y="978">60</text>
<text x="1421" y="996">95</text>
<text x="1448" y="1021">82</text>
</g>

<g id="leaves" class="lf">
<g id="leaf-AAL60417"><circle cx="1492.5" cy="92" r="7.5" fill="#ee1111"/><text x="1505" y="101">AAL60417.1 OBP4 <tspan class="it">Apis mellifera</tspan></text></g>
<g id="leaf-ANW10209"><text x="1503" y="133">ANW10209.1 OBP4 <tspan class="it">Melipona scutellaris</tspan></text></g>
<g id="leaf-AKQ98505"><text x="1455" y="167">AKQ98505.1 OBP4 <tspan class="it">Apis cerana cerana</tspan></text></g>
<g id="leaf-AHC94319"><text x="1548.5" y="201">AHC94319.1 OBP3 <tspan class="it">Apis cerana</tspan></text></g>
<g id="leaf-ABD92639"><text x="1548.5" y="235">ABD92639.1 OBP3 <tspan class="it">Apis mellifera</tspan></text></g>
<g id="leaf-ABD92644"><text x="1545" y="269">ABD92644.1 OBP12 <tspan class="it">Apis mellifera</tspan></text></g>
<g id="leaf-AGI05200"><text x="1516.5" y="303">AGI05200.1 OBP1 <tspan class="it">Osmia cornuta</tspan></text></g>
<g id="leaf-AAL60418"><text x="1515" y="337">AAL60418.1 OBP2 <tspan class="it">Apis mellifera</tspan></text></g>
<g id="leaf-ALV87608"><text x="1466" y="371">ALV87608.1 OBP15 <tspan class="it">Drosicha corpulenta</tspan></text></g>
<g id="leaf-ABD92640"><text x="1451" y="405">ABD92640.1 OBP7 <tspan class="it">Apis mellifera</tspan></text></g>
<g id="leaf-QNC49768"><text x="1404.5" y="438.5">QNC49768.1 OBP3 <tspan class="it">Trissolcus japonicus</tspan></text></g>
<g id="leaf-UQJ72440"><text x="1404.5" y="472.5">UQJ72440.1 OBP4 <tspan class="it">Trissolcus basalis</tspan></text></g>
<g id="leaf-AAL60422"><text x="1416" y="506.5">AAL60422.1 OBP5 <tspan class="it">Apis mellifera</tspan></text></g>
<g id="leaf-AAL60421"><text x="1414" y="540.5">AAL60421.1 OBP6 <tspan class="it">Apis mellifera</tspan></text></g>
<g id="leaf-AAK01304"><text x="1414" y="574.5">AAK01304.1 OBP8 <tspan class="it">Apis mellifera</tspan></text></g>
<g id="leaf-ABD92643"><text x="1315" y="608">ABD92643.1 OBP11 <tspan class="it">Apis mellifera</tspan></text></g>
<g id="leaf-AAL60419"><text x="1497" y="642">AAL60419.1 OBP1 <tspan class="it">Apis mellifera</tspan></text></g>
<g id="leaf-ABD92642"><text x="1436.5" y="676">ABD92642.1 OBP10 <tspan class="it">Apis mellifera</tspan></text></g>
<g id="leaf-ABD92641"><text x="1391" y="710">ABD92641.1 OBP9 <tspan class="it">Apis mellifera</tspan></text></g>
<g id="leaf-XP_043479745"><text x="1392" y="744">XP_043479745.1 OBP56d-like <tspan class="it">Leptopilina heterotoma</tspan></text></g>
<g id="leaf-ABD92645"><text x="1449" y="778">ABD92645.1 OBP13 <tspan class="it">Apis mellifera</tspan></text></g>
<g id="leaf-NP_001035299"><text x="1527" y="812">NP_001035299.1 <tspan class="it">OBP19 precursor Apis mellifera</tspan></text></g>
<g id="leaf-ABD92652"><text x="1526.5" y="846">ABD92652.1 OBP20 <tspan class="it">Apis mellifera</tspan></text></g>
<g id="leaf-ABD92646"><text x="1525.6" y="880">ABD92646.1 OBP14 <tspan class="it">Apis mellifera</tspan></text></g>
<g id="leaf-ABD92650"><text x="1510" y="914">ABD92650.1 OBP18 <tspan class="it">Apis mellifera</tspan></text></g>
<g id="leaf-ABD92653"><text x="1501.4" y="948">ABD92653.1 OBP21 <tspan class="it">Apis mellifera</tspan></text></g>
<g id="leaf-ABD92647"><text x="1540.5" y="982">ABD92647.1 OBP15 <tspan class="it">Apis mellifera</tspan></text></g>
<g id="leaf-ABD92648"><text x="1551" y="1016">ABD92648.1 OBP16 <tspan class="it">Apis mellifera</tspan></text></g>
<g id="leaf-ABD92649"><text x="1547.4" y="1050">ABD92649.1 OBP17 <tspan class="it">Apis mellifera</tspan></text></g>
</g>

<g id="scalebar">
<path class="br" d="M1103.3,1004H1192.3M1103.3,997V1011M1192.3,997V1011"/>
<text class="pl" x="1147" y="1026" font-size="18" text-anchor="middle">0.2</text>
</g>
</svg>
